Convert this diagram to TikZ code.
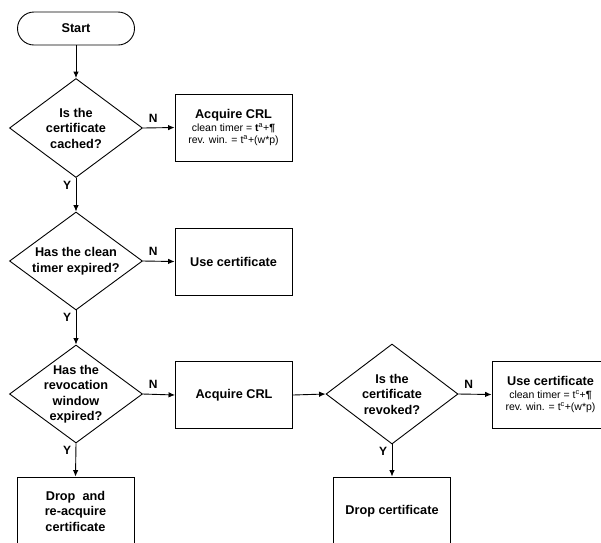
\documentclass[tikz,border=0pt]{standalone}
\usepackage{fontspec}
\setmainfont{Liberation Sans}
\usetikzlibrary{shapes.geometric,arrows.meta}
\newcommand{\smallfnt}{\mdseries\fontsize{10.5}{12.5}\selectfont}
\begin{document}
\begin{tikzpicture}[x=1pt,y=-1pt,line width=0.9pt,
  every node/.style={font=\bfseries\fontsize{12.7}{15.5}\selectfont},
  dia/.style={draw, diamond, minimum width=133pt, minimum height=99pt, inner sep=0pt},
  box/.style={draw, rectangle, minimum width=117pt, minimum height=67pt, inner sep=0pt, align=center},
  qtext/.style={align=center, inner sep=0pt},
  lab/.style={inner sep=0pt, font=\bfseries\fontsize{12}{14}\selectfont},
  arr/.style={-{Latex[length=6.5pt,width=5.5pt]}}]
\useasboundingbox (0,0) rectangle (601,542);
% nodes
\node[draw, rounded corners=16.5pt, minimum width=117pt, minimum height=33pt, inner sep=0pt] (start) at (76,28.5) {Start};
\node[dia] (d1) at (76,128) {};
\node[qtext] (t1) at (d1) {Is the\\certificate\\cached?};
\node[box] (b1) at (233.5,127.5) {Acquire CRL\\[-3pt]{\smallfnt clean timer = \textbf{t}\textsuperscript{a}+\textbf{¶}}\\[-3pt]{\smallfnt rev. win. = t\textsuperscript{a}+(w*p)}};
\node[dia, minimum height=98pt] (d2) at (76,261) {};
\node[qtext] (t2) at (d2) {Has the clean\\timer expired?};
\node[box] (b2) at (233.5,261.5) {Use certificate};
\node[dia, minimum height=98pt] (d3) at (76,394) {};
\node[qtext] (t3) at (d3) {Has the\\revocation\\window\\expired?};
\node[box] (b3) at (234,395) {Acquire CRL};
\node[box, minimum height=68pt] (b4) at (75.5,511) {Drop~ and\\re-acquire\\certificate};
\node[dia, minimum width=132pt, minimum height=100pt] (d4) at (392,394) {};
\node[qtext] (t4) at (d4) {Is the\\certificate\\revoked?};
\node[box] (b5) at (550.5,394.5) {Use certificate\\[-3pt]{\smallfnt clean timer = t\textsuperscript{c}+\textbf{¶}}\\[-3pt]{\smallfnt rev. win. = t\textsuperscript{c}+(w*p)}};
\node[box, minimum height=68pt] (b6) at (392,511) {Drop certificate};
% connectors
\draw[arr] (start) -- (d1);
\draw[arr] (d1.east) node[lab, anchor=south west, xshift=5.5pt, yshift=5.5pt] (n1) {N} -- (b1.west);
\draw[arr] (d1.south) node[lab, anchor=north east, xshift=-4.5pt, yshift=-2.5pt] (y1) {Y} -- (d2.north);
\draw[arr] (d2.east) node[lab, anchor=south west, xshift=5.5pt, yshift=5.5pt] (n2) {N} -- (b2.west);
\draw[arr] (d2.south) node[lab, anchor=north east, xshift=-4.5pt, yshift=-2.5pt] (y2) {Y} -- (d3.north);
\draw[arr] (d3.east) node[lab, anchor=south west, xshift=5.5pt, yshift=5.5pt] (n3) {N} -- (b3.west);
\draw[arr] (d3.south) node[lab, anchor=north east, xshift=-4.5pt, yshift=-2.5pt] (y3) {Y} -- (b4.north);
\draw[arr] (b3.east) -- (d4.west);
\draw[arr] (d4.east) node[lab, anchor=south west, xshift=5.5pt, yshift=5.5pt] (n4) {N} -- (b5.west);
\draw[arr] (d4.south) node[lab, anchor=north east, xshift=-4.5pt, yshift=-2.5pt] (y4) {Y} -- (b6.north);
\end{tikzpicture}
\end{document}
